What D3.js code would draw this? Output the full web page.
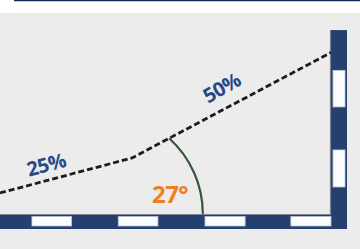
<!DOCTYPE html>
<html>
<head>
<meta charset="utf-8">
<script src="https://cdn.jsdelivr.net/npm/d3@7"></script>
<style>
  body { margin: 0; background: #fff; }
  svg { display: block; }
</style>
</head>
<body>
<div id="container"></div>
<script>
/* CONSTANTS AND GLOBALS */
const width = 360;
const height = 249;

/* DATA */
const grades = [25, 50];              // percent grade of each segment
const runs = [15.3, 23.05];           // horizontal run of each segment (units)
const startElevation = 2.3;
const gradeLabels = ["25%", "50%"];
const angleLabel = "27°";
const hStripes = [[3.7, 8.3], [13.7, 18.3], [23.75, 28.4], [33.7, 38.35]];
const vStripes = [[2.95, 7.0], [11.7, 15.7]];
const rulerTop = 20.1;
const arcCenter = 11.7, arcRadius = 11.8;

/* SCALES */
const xScale = d3.scaleLinear().domain([0, 38.35]).range([0, 331]);
const yScale = d3.scaleLinear().domain([0, 20]).range([214, 31]);

// profile points built from grades
const points = [{ x: 0, e: startElevation }];
runs.forEach((r, i) => {
  const p = points[points.length - 1];
  points.push({ x: p.x + r, e: p.e + r * grades[i] / 100 });
});

const svg = d3.select("#container").append("svg")
  .attr("width", width).attr("height", height);

// backgrounds
svg.append("rect").attr("x", 0).attr("y", 0).attr("width", width).attr("height", height).attr("fill", "#fff");
svg.append("rect").attr("x", 0).attr("y", 13).attr("width", width).attr("height", height - 13).attr("fill", "#ececec");
svg.append("line").attr("x1", 14).attr("x2", width).attr("y1", 0.5).attr("y2", 0.5)
  .attr("stroke", "#0d2d57").attr("stroke-width", 1.5);

const navy = "#24406f";
const x0 = xScale(0), xEnd = xScale(38.35);
const barW = 16, barH = 15;

/* RULERS */
svg.append("rect").attr("x", x0).attr("y", yScale(0)).attr("width", xEnd + barW).attr("height", barH)
  .attr("fill", navy);
svg.append("rect").attr("x", xEnd).attr("y", yScale(rulerTop)).attr("width", barW)
  .attr("height", yScale(0) + barH - yScale(rulerTop)).attr("fill", navy);

svg.selectAll(".hs").data(hStripes).join("rect")
  .attr("x", d => xScale(d[0])).attr("width", d => xScale(d[1]) - xScale(d[0]))
  .attr("y", yScale(0) + 2.5).attr("height", barH - 5.5)
  .attr("fill", "#fbfdff").attr("stroke", "#b9c3d4").attr("stroke-width", 0.8);

svg.selectAll(".vs").data(vStripes).join("rect")
  .attr("x", xEnd + 2).attr("width", barW - 4)
  .attr("y", d => yScale(d[1])).attr("height", d => yScale(d[0]) - yScale(d[1]))
  .attr("fill", "#fbfdff").attr("stroke", "#b9c3d4").attr("stroke-width", 0.8);

// grey inner edges
svg.append("path")
  .attr("d", `M${x0},${yScale(0) + 0.5}H${xEnd - 0.5}V${yScale(rulerTop)}`)
  .attr("fill", "none").attr("stroke", "#7c8290").attr("stroke-width", 1.2);

/* ANGLE ARC */
const cx = xScale(arcCenter), cy = yScale(0);
const R = xScale(arcCenter + arcRadius) - cx;
// intersection of circle with second segment
const p1 = points[1], p2 = points[2];
const ax = xScale(p1.x), ay = yScale(p1.e), bx = xScale(p2.x), by = yScale(p2.e);
const dx = bx - ax, dy = by - ay;
const fx = ax - cx, fy = ay - cy;
const A = dx * dx + dy * dy, B = 2 * (fx * dx + fy * dy), C = fx * fx + fy * fy - R * R;
const t = (-B + Math.sqrt(B * B - 4 * A * C)) / (2 * A);
const ix = ax + t * dx, iy = ay + t * dy;
const endAng = Math.atan2(ix - cx, -(iy - cy)); // d3.arc angle: 0 at 12 o'clock, clockwise
svg.append("path")
  .attr("transform", `translate(${cx},${cy})`)
  .attr("d", d3.arc()({ innerRadius: R, outerRadius: R, startAngle: endAng, endAngle: Math.PI / 2 }))
  .attr("fill", "none").attr("stroke", "#36563a").attr("stroke-width", 2.2);

/* PROFILE LINE */
const line = d3.line().x(d => xScale(d.x)).y(d => yScale(d.e));
svg.append("path").datum(points)
  .attr("d", line)
  .attr("fill", "none").attr("stroke", "#1c1c1c").attr("stroke-width", 2.8)
  .attr("stroke-dasharray", "6,3");

/* LABELS */
const labelPos = [{ x: 5.35, e: 5.4, rot: -15 }, { x: 25.7, e: 13.8, rot: -30 }];
svg.selectAll(".gl").data(gradeLabels).join("text")
  .attr("transform", (d, i) => `translate(${xScale(labelPos[i].x)},${yScale(labelPos[i].e)}) rotate(${labelPos[i].rot})`)
  .attr("text-anchor", "middle")
  .attr("dy", "0.36em")
  .attr("font-family", "Open Sans, DejaVu Sans, sans-serif")
  .attr("font-weight", "bold").attr("font-size", 20)
  .attr("letter-spacing", -0.5)
  .attr("fill", "#2a4787")
  .text(d => d);

svg.append("text")
  .attr("x", xScale(19.7)).attr("y", yScale(1.2))
  .attr("text-anchor", "middle")
  .attr("font-family", "Open Sans, DejaVu Sans, sans-serif")
  .attr("font-weight", "bold").attr("font-size", 24)
  .attr("letter-spacing", -0.5)
  .attr("fill", "#f07f22")
  .text(angleLabel);
</script>
</body>
</html>
